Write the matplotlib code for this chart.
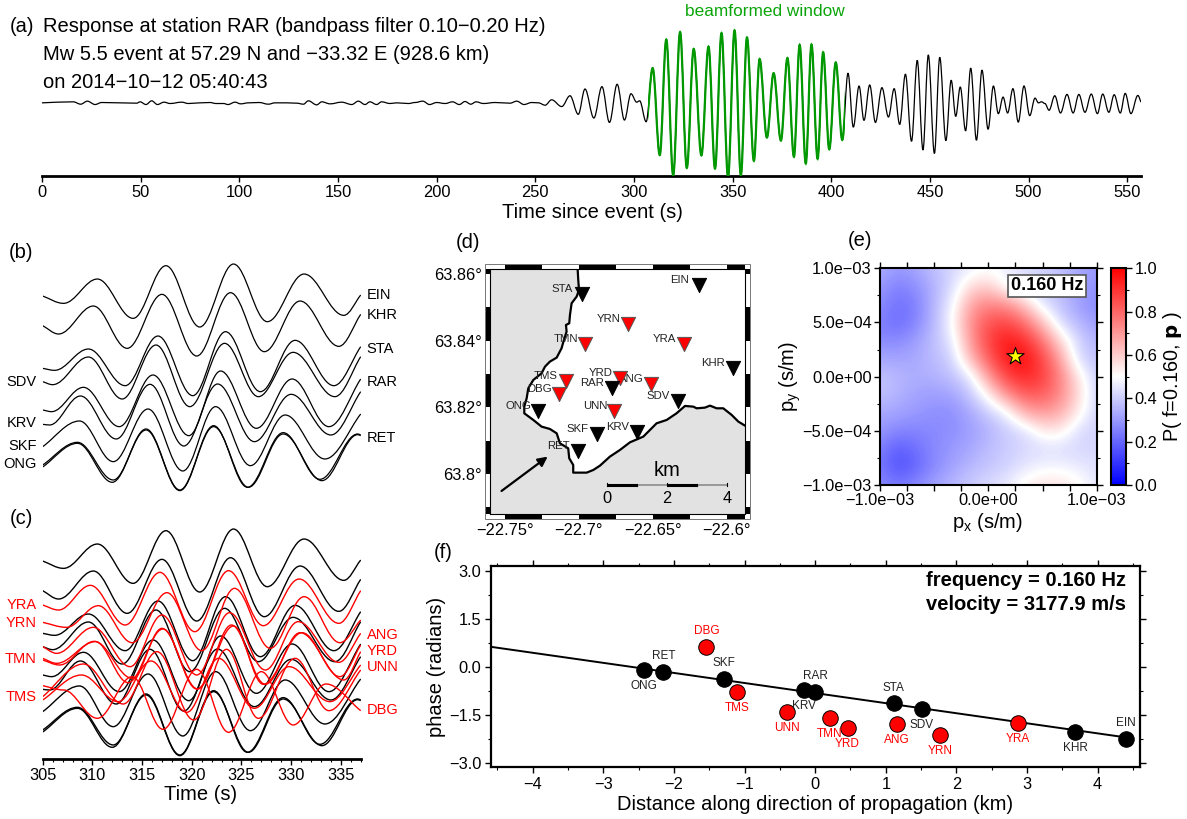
import numpy as np
import matplotlib
matplotlib.use('Agg')
import matplotlib.pyplot as plt
from matplotlib.path import Path
from matplotlib.patches import PathPatch, Rectangle
from matplotlib.ticker import MultipleLocator
from matplotlib.transforms import blended_transform_factory

plt.rcParams['font.family'] = ['Liberation Sans', 'DejaVu Sans']
plt.rcParams['mathtext.default'] = 'regular'

W, H = 1187, 819
MINUS = '\u2212'
RED = '#ff0000'
GREEN = '#009a00'
BIG = 14.5
TICK = 11.8

# (a) waveform at RAR, turning points
t_rar = [0, 15.9, 19.6, 23.0, 26.9, 30.2, 39.5, 48.0, 49.7, 52.7, 55.6, 58.5, 61.8, 64.9, 70.8, 74.2, 80.1, 85.1, 88.2,
         92.0, 94.3, 97.8, 100.7, 104.6, 110.1, 114.7, 118.1, 124.0, 129.1, 132.5, 135.0, 139.2, 141.8, 146.0, 151.9,
         157.0, 160.3, 163.7, 166.2, 169.6, 172.1, 176.4, 179.8, 185.7, 189.1, 193.0, 196.4, 200.0, 204.3, 208.1,
         211.5, 214.4, 217.3, 220.0, 223.7, 229.6, 237.2, 240.6, 244.3, 248.2, 251.6, 255.0, 258.3, 263.4, 267.6,
         271.8, 275.2, 279.7, 283.8, 287.6, 291.5, 295.2, 298.5, 301.4, 302.9, 306.2, 309.5, 313.1, 316.4, 319.9,
         323.4, 326.8, 330.3, 334.2, 337.8, 341.1, 344.4, 347.7, 351.0, 354.2, 357.3, 360.8, 363.7, 367.4, 370.8,
         374.5, 377.8, 381.1, 384.0, 387.1, 390.0, 393.1, 395.9, 399.0, 402.3, 405.6, 408.5, 411.2, 414.1, 416.6,
         419.5, 422.4, 425.7, 429.0, 431.9, 434.7, 437.6, 440.7, 443.6, 446.5, 449.2, 452.3, 455.0, 458.1, 460.8,
         463.1, 465.4, 468.1, 470.7, 473.6, 476.4, 479.5, 482.2, 484.7, 487.1, 489.4, 492.1, 494.8, 497.7, 500.6,
         503.3, 505.0, 506.6, 508.3, 510.4, 513.3, 516.2, 519.5, 522.6, 525.5, 528.6, 531.8, 534.9, 537.6, 540.7,
         543.4, 546.5, 549.0, 551.9, 555.4, 557.0]
a_rar = [0, 3, -4, 5, -5, 1, 0, -1, 3, -5, 6, -5, 2, -2, 2, -2, 0, 1, -2,
         -2, -5, 2, -3, 0, 1, -4, 0, 0, -1, -4, 6, -6, 3, -3, 2,
         -5, 5, -5, 3, -5, 3, -2, 0, -2, 1, 5, -5, 1, -2, 3,
         -5, 4, -4, 3, -2, 1, -1, 5, -5, 1, 0, -7, 9, -11, 21,
         -34, 41, -45, 48, -58, 55, -51, 27, 2, 6, -56, 103, -155, 188, -215,
         210, -193, 160, -156, 167, -195, 207, -220, 215, -215, 194, -172, 130, -103, 88,
         -112, 133, -160, 172, -180, 173, -166, 150, -138, 120, -110, 88, -72, 50, -52,
         53, -58, 45, -42, 42, -64, 85, -114, 126, -140, 142, -150, 135, -112, 67,
         -40, 47, -83, 103, -111, 97, -78, 50, -32, 17, -30, 42, -57, 50, -38,
         14, 0, 3, -2, -22, 21, -30, 25, -30, 25, -28, 26, -32, 26, -28,
         24, -30, 28, -32, 22, 2]
beam_window = [307, 407]
a_ticks = [0, 50, 100, 150, 200, 250, 300, 350, 400, 450, 500, 550]

# (b) and (c) aligned traces, turning points of every station
t_ein = [305.0, 307.1, 310.5, 314.1, 317.4, 320.8, 324.2, 327.6, 331.3, 335.3, 337.0]
a_ein = [617, 595, 668, 550, 708, 524, 713, 540, 683, 559, 620]
t_khr = [305.0, 306.6, 310.1, 313.5, 317.0, 320.5, 323.9, 327.3, 330.9, 334.8, 337.0]
a_khr = [528, 503, 587, 460, 622, 437, 627, 450, 602, 466, 562]
t_sta = [305.0, 306.2, 309.6, 313.3, 316.6, 320.1, 323.4, 326.9, 330.4, 334.3, 337.0]
a_sta = [400, 394, 458, 348, 497, 318, 510, 330, 484, 348, 465]
t_sdv = [305.0, 306.0, 309.6, 313.0, 316.4, 319.8, 323.3, 326.7, 330.2, 334.4, 337.0]
a_sdv = [360, 351, 434, 308, 470, 285, 475, 315, 448, 315, 435]
t_rar2 = [305.0, 305.9, 309.1, 312.7, 316.1, 319.7, 322.9, 326.5, 330.1, 333.8, 337.0]
a_rar2 = [275, 270, 343, 225, 380, 198, 392, 220, 368, 225, 368]
t_krv = [305.0, 305.7, 308.8, 312.4, 315.8, 319.2, 322.6, 326.3, 330.0, 334.0, 337.0]
a_krv = [232, 230, 317, 188, 352, 167, 353, 180, 322, 200, 330]
t_skf = [305.0, 308.7, 312.1, 315.6, 319.1, 322.4, 325.9, 329.4, 333.4, 337.0]
a_skf = [165, 242, 120, 278, 92, 285, 108, 260, 128, 263]
t_ong = [305.0, 308.5, 312.1, 315.4, 318.8, 322.2, 325.6, 329.2, 332.9, 336.7, 337.0]
a_ong = [110, 178, 65, 218, 35, 228, 43, 207, 67, 203, 200]
t_ret = [305.0, 308.5, 312.0, 315.4, 318.8, 322.2, 325.7, 329.2, 333.1, 336.7, 337.0]
a_ret = [104, 175, 58, 215, 33, 225, 43, 203, 63, 201, 198]

t_yra = [305.0, 306.6, 309.8, 313.3, 316.8, 320.3, 323.7, 327.2, 330.8, 334.8, 337.0]
a_yra = [485, 470, 544, 425, 583, 405, 588, 423, 563, 430, 528]
t_yrn = [305.0, 307.4, 310.6, 314.0, 317.5, 321.0, 324.3, 327.9, 331.3, 334.9, 337.0]
a_yrn = [433, 418, 483, 372, 522, 348, 535, 355, 510, 372, 440]
t_ang = [305.0, 306.4, 310.1, 313.8, 317.0, 320.5, 323.8, 327.4, 330.7, 334.8, 337.0]
a_ang = [360, 340, 418, 300, 455, 275, 462, 290, 435, 313, 400]
t_tmn = [305.0, 306.7, 310.2, 314.0, 317.0, 320.6, 324.0, 327.4, 330.9, 335.3, 337.0]
a_tmn = [320, 305, 376, 265, 415, 233, 425, 247, 402, 260, 345]
t_yrd = [305.0, 306.4, 310.3, 313.6, 317.1, 320.5, 324.2, 327.2, 331.1, 334.9, 337.0]
a_yrd = [325, 310, 375, 252, 413, 233, 422, 247, 402, 270, 365]
t_unn = [305.0, 308.9, 312.6, 315.9, 319.5, 322.7, 326.3, 329.8, 333.9, 337.0]
a_unn = [200, 275, 195, 317, 163, 325, 175, 300, 195, 305]
t_tms = [305.0, 309.1, 313.1, 316.5, 320.2, 323.5, 326.7, 330.4, 333.8, 337.0]
a_tms = [210, 308, 188, 345, 140, 352, 145, 325, 168, 290]
t_dbg = [305.0, 307.1, 310.5, 314.0, 317.1, 320.5, 323.7, 327.0, 330.2, 333.5, 337.0]
a_dbg = [243, 230, 145, 270, 112, 292, 103, 285, 125, 248, 168]

# (d) map
station_names = ['EIN', 'STA', 'YRN', 'TMN', 'YRA', 'KHR', 'YRD', 'TMS', 'ANG', 'RAR', 'DBG', 'SDV', 'ONG', 'UNN', 'SKF', 'KRV', 'RET']
station_lon = [-22.6190, -22.6979, -22.6666, -22.6959, -22.6287, -22.5960, -22.6720, -22.7090, -22.6510, -22.6778, -22.7137, -22.6332, -22.7279, -22.6760, -22.6878, -22.6609, -22.7006]
station_lat = [63.8567, 63.8539, 63.8449, 63.8389, 63.8389, 63.8319, 63.8289, 63.8279, 63.8269, 63.8259, 63.8239, 63.8219, 63.8189, 63.8189, 63.8119, 63.8127, 63.8069]
station_red = [False, False, True, True, True, False, True, True, True, False, True, False, False, True, False, False, False]
coast_lon = [-22.7008, -22.7004, -22.6999, -22.7015, -22.7049, -22.7060, -22.7065, -22.7087, -22.7083, -22.7101, -22.7117, -22.7150,
             -22.7196, -22.7229, -22.7252, -22.7308, -22.7342, -22.7353, -22.7369, -22.7369, -22.7308, -22.7252, -22.7196, -22.7150,
             -22.7128, -22.7072, -22.7065, -22.7038, -22.7038, -22.6947, -22.6902, -22.6857, -22.6790, -22.6722, -22.6654, -22.6564,
             -22.6474, -22.6406, -22.6339, -22.6282, -22.6226, -22.6203, -22.6147, -22.6113, -22.6068, -22.6023, -22.5966, -22.5921, -22.5876]
coast_lat = [63.8614, 63.8582, 63.8552, 63.8532, 63.8512, 63.8477, 63.8452, 63.8447, 63.8427, 63.8402, 63.8377, 63.8349,
             63.8337, 63.8322, 63.8302, 63.8282, 63.8257, 63.8227, 63.8202, 63.8182, 63.8162, 63.8142, 63.8135, 63.8122,
             63.8092, 63.8077, 63.8047, 63.8027, 63.8004, 63.8004, 63.8012, 63.8025, 63.8052, 63.8072, 63.8095, 63.8112,
             63.8152, 63.8162, 63.8182, 63.8204, 63.8202, 63.8197, 63.8199, 63.8205, 63.8197, 63.8197, 63.8177, 63.8157, 63.8145]
lon_ticks = [-22.75, -22.7, -22.65, -22.6]
lat_ticks = [63.8, 63.82, 63.84, 63.86]

# (e) beam power read on a coarse grid, top row first
px_grid = [-1.0e-3, -8.33e-4, -6.67e-4, -5.0e-4, -3.33e-4, -1.67e-4, 0, 1.67e-4, 3.33e-4, 5.0e-4, 6.67e-4, 8.33e-4, 1.0e-3]
beam_power = [
    [.35, .30, .33, .38, .42, .46, .49, .47, .44, .42, .38, .33, .30],
    [.30, .25, .28, .35, .43, .57, .60, .47, .42, .40, .37, .32, .28],
    [.28, .22, .25, .36, .47, .68, .74, .72, .61, .44, .38, .31, .27],
    [.25, .21, .26, .36, .50, .72, .84, .86, .78, .62, .42, .36, .30],
    [.27, .27, .31, .38, .45, .70, .87, .955, .91, .77, .57, .41, .35],
    [.33, .32, .33, .37, .41, .64, .82, .955, .98, .86, .68, .42, .38],
    [.38, .36, .34, .35, .38, .45, .70, .87, .93, .88, .74, .54, .40],
    [.38, .35, .32, .31, .32, .39, .52, .72, .82, .82, .73, .57, .41],
    [.33, .32, .30, .28, .28, .33, .40, .47, .66, .70, .66, .53, .41],
    [.30, .26, .26, .27, .28, .31, .35, .40, .43, .54, .54, .43, .41],
    [.25, .18, .22, .27, .30, .33, .37, .40, .42, .43, .43, .42, .42],
    [.24, .15, .20, .27, .32, .36, .39, .41, .45, .48, .48, .46, .44],
    [.27, .24, .27, .32, .36, .40, .43, .46, .53, .56, .56, .52, .45],
]
best_px, best_py = 2.5e-4, 1.9e-4

# (f) phase against distance
dist_km = [-2.43, -2.15, -1.54, -1.29, -1.10, -0.40, -0.16, 0.0, 0.21, 0.46, 1.11, 1.16, 1.51, 1.77, 2.87, 3.68, 4.40]
phase_rad = [-0.08, -0.15, 0.62, -0.38, -0.79, -1.42, -0.73, -0.79, -1.60, -1.91, -1.14, -1.78, -1.32, -2.13, -1.76, -2.02, -2.26]
phase_names = ['ONG', 'RET', 'DBG', 'SKF', 'TMS', 'UNN', 'KRV', 'RAR', 'TMN', 'YRD', 'STA', 'ANG', 'SDV', 'YRN', 'YRA', 'KHR', 'EIN']
phase_red = [False, False, True, False, True, True, False, False, True, True, False, True, False, True, True, False, False]
phase_above = [False, True, True, True, False, False, False, True, False, False, True, False, False, False, False, False, True]
fit_x = [-4.59, 4.40]
fit_y = [0.63, -2.20]


def add_ax(left, top, right, bottom):
    return fig.add_axes([left / W, 1 - bottom / H, (right - left) / W, (bottom - top) / H])


def ftext(x, y, s, **kw):
    kw.setdefault('ha', 'left')
    kw.setdefault('va', 'center')
    return fig.text(x / W, 1 - y / H, s, **kw)


def trace(ax, t, a, color='black', lw=1.0, zorder=2):
    # smooth wiggle through the read turning points, flat tangent at each one
    verts = [(t[0], a[0])]
    codes = [Path.MOVETO]
    n = len(t)
    for i in range(n - 1):
        dt = t[i + 1] - t[i]
        c1 = (t[i] + 0.36 * dt, a[i]) if i > 0 else (t[i] + 0.33 * dt, a[i] + 0.33 * (a[i + 1] - a[i]))
        c2 = (t[i + 1] - 0.36 * dt, a[i + 1]) if i < n - 2 else (t[i + 1] - 0.33 * dt, a[i + 1] - 0.33 * (a[i + 1] - a[i]))
        verts += [c1, c2, (t[i + 1], a[i + 1])]
        codes += [Path.CURVE4] * 3
    patch = PathPatch(Path(verts, codes), fc='none', ec=color, lw=lw, zorder=zorder)
    ax.add_patch(patch)
    return patch


fig = plt.figure(figsize=(W / 100, H / 100), dpi=100)

# ---- (a)
ax = add_ax(42, 28, 1141, 176)
ax.set_xlim(0, 557)
ax.set_ylim(-217, 222)
trace(ax, t_rar, a_rar, lw=0.9)
green = trace(ax, t_rar, a_rar, color=GREEN, lw=1.6, zorder=3)
green.set_clip_path(Rectangle((beam_window[0], -217), beam_window[1] - beam_window[0], 439, transform=ax.transData))
ax.set_yticks([])
ax.set_xticks(a_ticks)
for s in ['top', 'left', 'right']:
    ax.spines[s].set_visible(False)
ax.spines['bottom'].set_linewidth(2)
ax.tick_params(axis='x', length=4.5, width=1, labelsize=TICK, pad=2)
ax.patch.set_alpha(0)

ftext(10, 26, '(a)', fontsize=BIG)
ftext(43, 26, f'Response at station RAR (bandpass filter 0.10{MINUS}0.20 Hz)', fontsize=BIG)
ftext(43, 55, f'Mw 5.5 event at 57.29 N and {MINUS}33.32 E (928.6 km)', fontsize=BIG)
ftext(43, 83, f'on 2014{MINUS}10{MINUS}12 05:40:43', fontsize=BIG)
ftext(765, 12, 'beamformed window', fontsize=12.4, color='#0aa50a', ha='center')
ftext(592, 212, 'Time since event (s)', fontsize=BIG, ha='center')

# ---- (b)
black_traces = [(t_ein, a_ein), (t_khr, a_khr), (t_sta, a_sta), (t_sdv, a_sdv), (t_rar2, a_rar2),
                (t_krv, a_krv), (t_skf, a_skf), (t_ong, a_ong), (t_ret, a_ret)]
red_traces = [(t_yra, a_yra), (t_yrn, a_yrn), (t_ang, a_ang), (t_tmn, a_tmn), (t_yrd, a_yrd),
              (t_unn, a_unn), (t_tms, a_tms), (t_dbg, a_dbg)]

ax = add_ax(42.7, 261.7, 360.7, 494.3)
ax.set_xlim(305, 337)
ax.set_ylim(22, 720)
ax.axis('off')
for t, a in black_traces:
    trace(ax, t, a, lw=0.9)
for name, y in [('EIN', 620), ('KHR', 560), ('STA', 458), ('RAR', 360), ('RET', 192)]:
    ax.text(337.6, y, name, fontsize=10.5, va='center', ha='left')
for name, y in [('SDV', 360), ('KRV', 235), ('SKF', 168), ('ONG', 113)]:
    ax.text(304.4, y, name, fontsize=10.5, va='center', ha='right')
ftext(9, 253, '(b)', fontsize=BIG)

# ---- (c)
ax = add_ax(42.7, 526.7, 360.7, 759.3)
ax.set_xlim(305, 337)
ax.set_ylim(22, 720)
for t, a in black_traces:
    trace(ax, t, a, lw=1.0)
for t, a in red_traces:
    trace(ax, t, a, color=RED, lw=1.0, zorder=3)
for name, y in [('ANG', 395), ('YRD', 347), ('UNN', 300), ('DBG', 170)]:
    ax.text(337.6, y, name, fontsize=10.5, va='center', ha='left', color=RED)
for name, y in [('YRA', 485), ('YRN', 432), ('TMN', 322), ('TMS', 210)]:
    ax.text(304.4, y, name, fontsize=10.5, va='center', ha='right', color=RED)
ax.set_yticks([])
ax.set_xticks(np.arange(305, 338, 5))
ax.xaxis.set_minor_locator(MultipleLocator(1))
for s in ['top', 'left', 'right']:
    ax.spines[s].set_visible(False)
ax.spines['bottom'].set_linewidth(2)
ax.tick_params(axis='x', which='major', length=4.5, width=1, labelsize=TICK, pad=2)
ax.tick_params(axis='x', which='minor', length=2.5, width=0.8)
ftext(10, 519, '(c)', fontsize=BIG)
ftext(201, 795, 'Time (s)', fontsize=BIG, ha='center')

# ---- (d)
ax = add_ax(490, 269.3, 745, 514.3)
lon0, lon1 = -22.7601, -22.5876
lat0, lat1 = 63.7879, 63.8614
ax.set_xlim(lon0, lon1)
ax.set_ylim(lat0, lat1)
ax.set_facecolor('#e2e2e2')
ax.fill(coast_lon + [lon1], coast_lat + [lat1], color='white', zorder=1)
ax.plot(coast_lon, coast_lat, color='black', lw=1.6, zorder=2)
for lon, lat, red in zip(station_lon, station_lat, station_red):
    ax.scatter(lon, lat, marker='v', s=105, color=RED if red else 'black', edgecolors='#555555' if red else 'black', lw=0.7, zorder=4)
for name, lon, lat in zip(station_names, station_lon, station_lat):
    ax.annotate(name, (lon, lat), xytext=(-14, 3.5), textcoords='offset points', fontsize=8.2, color='#222222', ha='center', va='center', zorder=3)
ax.annotate('', xy=(-22.7211, 63.8052), xytext=(-22.7523, 63.7949), arrowprops=dict(arrowstyle='-|>', lw=1.6, color='black', mutation_scale=14, shrinkA=0, shrinkB=0), zorder=5)

# scale bar
sb_lon = [-22.6808, -22.6605, -22.6402, -22.6199, -22.5996]
for i in range(4):
    ax.plot(sb_lon[i:i + 2], [63.7968, 63.7968], color='black' if i % 2 == 0 else '#999999', lw=2.2 if i % 2 == 0 else 1.4, solid_capstyle='butt', zorder=5)
for i, lab in zip([0, 2, 4], ['0', '2', '4']):
    ax.text(sb_lon[i], 63.7927, lab, fontsize=TICK, ha='center', va='center', zorder=5)
    ax.plot([sb_lon[i]] * 2, [63.7963, 63.7972], color='black', lw=0.8, zorder=5)
ax.plot([sb_lon[1]] * 2, [63.7965, 63.7970], color='black', lw=0.8, zorder=5)
ax.plot([sb_lon[3]] * 2, [63.7965, 63.7970], color='black', lw=0.8, zorder=5)
ax.text(sb_lon[2], 63.8009, 'km', fontsize=BIG, ha='center', va='center', zorder=5)

ax.set_xticks(lon_ticks)
ax.set_xticklabels([f'{MINUS}22.75\u00b0', f'{MINUS}22.7\u00b0', f'{MINUS}22.65\u00b0', f'{MINUS}22.6\u00b0'])
ax.set_yticks(lat_ticks)
ax.set_yticklabels(['63.8\u00b0', '63.82\u00b0', '63.84\u00b0', '63.86\u00b0'])
ax.tick_params(length=0, labelsize=TICK, pad=6)
for s in ax.spines.values():
    s.set_linewidth(0.8)

# fancy map frame
fw, fh = 5 / 255, 5 / 245
trans_x = blended_transform_factory(ax.transData, ax.transAxes)
trans_y = blended_transform_factory(ax.transAxes, ax.transData)
for lon in [-22.75, -22.70, -22.65, -22.60]:
    w = min(lon + 0.025, lon1) - lon
    for y0 in [1.0, -fh]:
        ax.add_patch(Rectangle((lon, y0), w, fh, transform=trans_x, color='black', clip_on=False, lw=0))
for lat in [63.78, 63.80, 63.82, 63.84, 63.86]:
    a0 = max(lat, lat0)
    a1 = min(lat + 0.01, lat1)
    for x0 in [1.0, -fw]:
        ax.add_patch(Rectangle((x0, a0), fw, a1 - a0, transform=trans_y, color='black', clip_on=False, lw=0))
ax.add_patch(Rectangle((-fw, -fh), 1 + 2 * fw, 1 + 2 * fh, transform=ax.transAxes, fc='none', ec='#777777', lw=0.7, clip_on=False))
ftext(456, 242, '(d)', fontsize=BIG)

# ---- (e)
ax = add_ax(880, 268.3, 1096.7, 485)
step = px_grid[1] - px_grid[0]
im = ax.imshow(np.array(beam_power), cmap='bwr', vmin=0, vmax=1, interpolation='bicubic', aspect='auto',
               extent=[px_grid[0] - step / 2, px_grid[-1] + step / 2, px_grid[0] - step / 2, px_grid[-1] + step / 2])
ax.set_xlim(-1e-3, 1e-3)
ax.set_ylim(-1e-3, 1e-3)
ax.scatter([best_px], [best_py], marker='*', s=170, color='yellow', edgecolors='black', lw=0.8, zorder=4)
ax.text(5.4e-4, 8.37e-4, '0.160 Hz', fontsize=13, fontweight='bold', ha='center', va='center',
        bbox=dict(boxstyle='square,pad=0.15', fc='white', ec='#555555', lw=1.2), zorder=5)
ax.set_xticks([-1e-3, -7.5e-4, -5e-4, -2.5e-4, 0, 2.5e-4, 5e-4, 7.5e-4, 1e-3])
ax.set_xticklabels([f'{MINUS}1.0e{MINUS}03', '', '', '', '0.0e+00', '', '', '', f'1.0e{MINUS}03'])
ax.set_yticks([-1e-3, -5e-4, 0, 5e-4, 1e-3])
ax.set_yticklabels([f'{MINUS}1.0e{MINUS}03', f'{MINUS}5.0e{MINUS}04', '0.0e+00', f'5.0e{MINUS}04', f'1.0e{MINUS}03'])
ax.yaxis.set_minor_locator(MultipleLocator(2.5e-4))
ax.tick_params(which='major', top=True, right=True, length=4, width=1, labelsize=TICK, pad=2)
ax.tick_params(which='minor', right=True, left=True, length=2.5, width=0.8)
for s in ax.spines.values():
    s.set_linewidth(1.5)
ftext(988, 522, 'p$_x$ (s/m)', fontsize=BIG, ha='center')
ftext(790, 376, 'p$_y$ (s/m)', fontsize=BIG, ha='center', rotation=90)
ftext(848, 240, '(e)', fontsize=BIG)

cax = add_ax(1110.7, 268.3, 1126, 485)
cb = fig.colorbar(im, cax=cax)
cb.set_ticks([0, 0.2, 0.4, 0.6, 0.8, 1.0])
cb.ax.yaxis.set_minor_locator(MultipleLocator(0.1))
cb.ax.tick_params(which='major', length=4, width=1, labelsize=TICK, pad=2)
cb.ax.tick_params(which='minor', length=2.5, width=0.8)
cb.outline.set_linewidth(1.5)
ftext(1173, 377, 'P( f=0.160, $\\mathbf{p}$ )', fontsize=14.3, ha='center', rotation=90)

# ---- (f)
ax = add_ax(491, 566, 1140, 767)
ax.set_xlim(-4.59, 4.6)
ax.set_ylim(-3.125, 3.156)
ax.plot(fit_x, fit_y, color='black', lw=1.4, zorder=2)
for x, y, red in zip(dist_km, phase_rad, phase_red):
    ax.scatter(x, y, s=125, color=RED if red else 'black', edgecolors='black', lw=0.7, zorder=3)
for name, x, y, red, above in zip(phase_names, dist_km, phase_rad, phase_red, phase_above):
    ax.annotate(name, (x, y), xytext=(0, 11.5 if above else -11.5), textcoords='offset points', fontsize=8.5,
                ha='center', va='center', color=RED if red else '#222222', zorder=4)
ax.text(0.979, 0.93, 'frequency = 0.160 Hz', transform=ax.transAxes, fontsize=BIG, fontweight='bold', ha='right', va='center')
ax.text(0.979, 0.808, 'velocity = 3177.9 m/s', transform=ax.transAxes, fontsize=BIG, fontweight='bold', ha='right', va='center')
ax.set_xticks([-4, -3, -2, -1, 0, 1, 2, 3, 4])
ax.set_xticklabels([f'{MINUS}4', f'{MINUS}3', f'{MINUS}2', f'{MINUS}1', '0', '1', '2', '3', '4'])
ax.set_yticks([-3, -1.5, 0, 1.5, 3])
ax.set_yticklabels([f'{MINUS}3.0', f'{MINUS}1.5', '0.0', '1.5', '3.0'])
ax.xaxis.set_minor_locator(MultipleLocator(0.5))
ax.yaxis.set_minor_locator(MultipleLocator(0.75))
ax.tick_params(which='major', top=True, right=True, length=4, width=1, labelsize=TICK, pad=3)
ax.tick_params(which='minor', top=True, right=True, length=2.5, width=0.8)
for s in ax.spines.values():
    s.set_linewidth(1.6)
ftext(815, 805, 'Distance along direction of propagation (km)', fontsize=BIG, ha='center')
ftext(437, 667, 'phase (radians)', fontsize=BIG, ha='center', rotation=90)
ftext(434, 553, '(f)', fontsize=BIG)

fig.savefig('out.png', dpi=100)
